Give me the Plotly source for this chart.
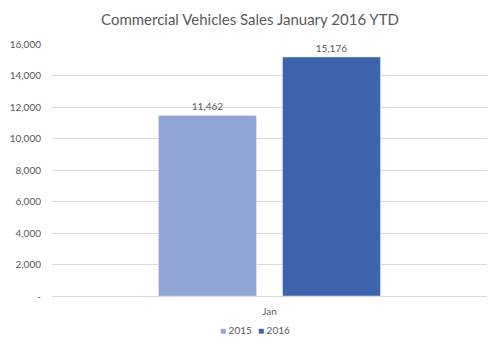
import plotly.graph_objects as go

categories = ["Jan"]
series_names = ["2015", "2016"]
sales_2015 = [11462]
sales_2016 = [15176]
tick_vals = [0, 2000, 4000, 6000, 8000, 10000, 12000, 14000, 16000]
tick_text = ["-", "2,000", "4,000", "6,000", "8,000", "10,000", "12,000", "14,000", "16,000"]

colors = ["#8FA3D5", "#3B64AD"]
font_family = "Lato, 'Open Sans', sans-serif"
grey = "#595959"

fig = go.Figure()
for name, vals, col in zip(series_names, [sales_2015, sales_2016], colors):
    fig.add_trace(go.Bar(name=name, x=categories, y=vals, marker_color=col,
                         text=[f"{v:,}" for v in vals], textposition="outside",
                         textfont=dict(size=10, color=grey), cliponaxis=False))

legend_x = [0.381, 0.469]
annotations = [dict(text=f"<span style='color:{c}'>■</span> {n}", xref="paper", yref="paper",
                    x=lx, y=-0.135, xanchor="left", yanchor="middle", showarrow=False,
                    font=dict(size=10, color=grey))
               for n, c, lx in zip(series_names, colors, legend_x)]

fig.update_layout(
    width=500, height=350,
    margin=dict(l=52, r=13, t=44, b=54, autoexpand=False),
    paper_bgcolor="white", plot_bgcolor="white",
    font=dict(family=font_family, color=grey, size=10),
    title=dict(text="Commercial Vehicles Sales January 2016 YTD", x=0.5, xanchor="center",
               y=0.945, yanchor="middle", font=dict(size=15, color=grey)),
    barmode="group", bargap=0.43, bargroupgap=0.21,
    showlegend=False,
    annotations=annotations,
)
fig.update_yaxes(range=[0, 16000], tickvals=tick_vals, ticktext=tick_text, automargin=False,
                 showgrid=True, gridcolor="#D9D9D9", gridwidth=1, zeroline=False,
                 ticks="", ticklabelstandoff=10, tickfont=dict(size=10, color=grey))
fig.update_xaxes(showline=True, linecolor="#D9D9D9", linewidth=1, ticks="", automargin=False,
                 ticklabelstandoff=6, tickfont=dict(size=10, color=grey))

fig.write_html("out.html")
